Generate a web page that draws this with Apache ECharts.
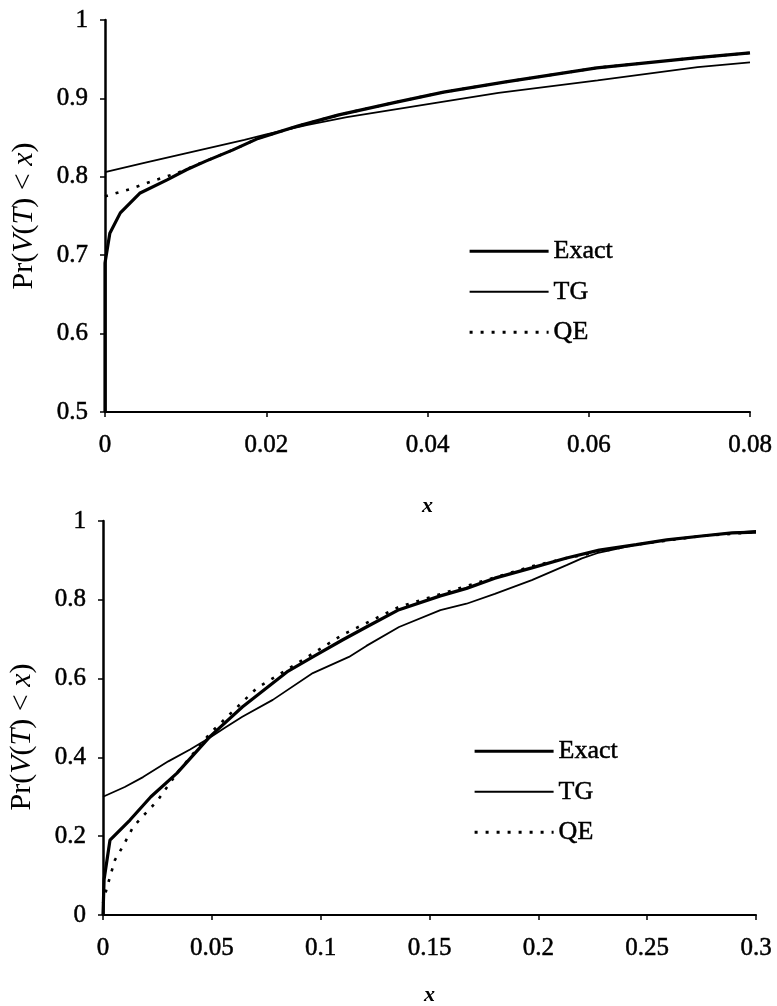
<!DOCTYPE html>
<html>
<head>
<meta charset="utf-8">
<script src="https://cdn.jsdelivr.net/npm/echarts@6/dist/echarts.min.js"></script>
<style>
  html, body { margin: 0; padding: 0; background: #fff; }
  #c1 { position: absolute; left: 0; top: 0; width: 777px; height: 530px; }
  #c2 { position: absolute; left: 0; top: 503px; width: 777px; height: 503px; }
</style>
</head>
<body>
<div id="c1"></div>
<div id="c2"></div>
<script>
// top panel, x from 0 to 0.08
var topExactX = [0, 0, 0.0006, 0.0019, 0.0043, 0.0077, 0.0101, 0.0125, 0.0158, 0.019, 0.024, 0.029, 0.036, 0.042, 0.0497, 0.061, 0.0735, 0.08];
var topExactY = [0.5, 0.69, 0.728, 0.754, 0.779, 0.796, 0.809, 0.82, 0.834, 0.849, 0.865, 0.879, 0.895, 0.908, 0.921, 0.939, 0.952, 0.958];
var topTgX = [0, 0.005, 0.01, 0.0173, 0.02, 0.025, 0.03, 0.036, 0.042, 0.0488, 0.0611, 0.0735, 0.08];
var topTgY = [0.806, 0.818, 0.83, 0.847, 0.854, 0.866, 0.876, 0.886, 0.896, 0.907, 0.923, 0.94, 0.946];
var topQeX = [0, 0.003, 0.006, 0.009, 0.012, 0.0158, 0.019, 0.024, 0.029, 0.036, 0.042, 0.0497, 0.061, 0.0735, 0.08];
var topQeY = [0.775, 0.784, 0.795, 0.805, 0.818, 0.834, 0.849, 0.865, 0.879, 0.895, 0.908, 0.921, 0.939, 0.952, 0.958];

// bottom panel, x from 0 to 0.3
var botExactX = [0, 0, 0.0005, 0.0032, 0.0124, 0.022, 0.034, 0.049, 0.064, 0.0845, 0.0964, 0.11, 0.121, 0.136, 0.155, 0.167, 0.18, 0.197, 0.213, 0.228, 0.245, 0.259, 0.275, 0.289, 0.3];
var botExactY = [0, 0, 0.09, 0.19, 0.241, 0.3, 0.36, 0.452, 0.528, 0.617, 0.655, 0.698, 0.731, 0.775, 0.81, 0.829, 0.855, 0.881, 0.906, 0.926, 0.94, 0.952, 0.962, 0.97, 0.972];
var botTgX = [0, 0.01, 0.0184, 0.03, 0.04, 0.049, 0.056, 0.064, 0.078, 0.0964, 0.113, 0.121, 0.136, 0.155, 0.167, 0.18, 0.197, 0.213, 0.22, 0.228, 0.245, 0.259, 0.275, 0.289, 0.3];
var botTgY = [0.3, 0.325, 0.35, 0.39, 0.42, 0.45, 0.475, 0.503, 0.546, 0.614, 0.655, 0.683, 0.731, 0.774, 0.79, 0.815, 0.85, 0.888, 0.905, 0.92, 0.94, 0.952, 0.962, 0.97, 0.975];
var botQeX = [0, 0.0018, 0.0055, 0.009, 0.0138, 0.018, 0.025, 0.034, 0.049, 0.0707, 0.0873, 0.11, 0.136, 0.167, 0.197, 0.213, 0.245, 0.275, 0.3];
var botQeY = [0.03, 0.07, 0.14, 0.173, 0.223, 0.249, 0.29, 0.36, 0.46, 0.576, 0.632, 0.711, 0.782, 0.835, 0.885, 0.906, 0.94, 0.962, 0.972];

var seriesNames = ['Exact', 'TG', 'QE'];

function pairs(xs, ys) {
    var out = [];
    for (var i = 0; i < xs.length; i++) out.push([xs[i], ys[i]]);
    return out;
}

var font = 'Liberation Serif';
var noSymbol = { color: 'rgba(0,0,0,0)', borderColor: 'rgba(0,0,0,0)', borderWidth: 0 };
// slight stroke so the text looks as heavy as the scanned print
var heavy = { textBorderColor: '#000', textBorderWidth: 0.5 };

function makeOption(cfg) {
    return {
        animation: false,
        backgroundColor: 'rgba(255,255,255,0)',
        grid: cfg.grid,
        legend: {
            orient: 'vertical',
            left: cfg.legendLeft,
            top: cfg.legendTop,
            padding: 0,
            itemWidth: 79,
            itemHeight: 14,
            itemGap: 14,
            itemStyle: noSymbol,
            data: [
                { name: seriesNames[0], itemStyle: noSymbol, lineStyle: { color: '#000', width: 3.2 } },
                { name: seriesNames[1], itemStyle: noSymbol, lineStyle: { color: '#000', width: 1.8 } },
                { name: seriesNames[2], itemStyle: noSymbol, lineStyle: { color: '#000', width: 3, type: [3, 8] } }
            ],
            textStyle: Object.assign({ fontFamily: font, fontSize: 26, color: '#000' }, heavy)
        },
        xAxis: {
            type: 'value',
            min: cfg.xMin, max: cfg.xMax, interval: cfg.xInterval,
            name: 'x',
            nameLocation: 'middle',
            nameGap: cfg.xNameGap,
            nameTextStyle: { fontFamily: font, fontSize: 22, fontStyle: 'italic', fontWeight: 'bold', color: '#000' },
            splitLine: { show: false },
            axisLine: { onZero: false, lineStyle: { color: '#000', width: 2 } },
            axisTick: { show: true, length: 5, lineStyle: { color: '#000', width: 1.5 } },
            axisLabel: Object.assign({ margin: 21, fontFamily: font, fontSize: 25, color: '#000' }, heavy)
        },
        yAxis: {
            type: 'value',
            min: cfg.yMin, max: cfg.yMax, interval: cfg.yInterval,
            name: '{n|Pr(}{i|V}{n|(}{i|T}{n|) < }{i|x}{n|)}',
            nameLocation: 'middle',
            nameRotate: 90,
            nameGap: 66,
            nameTextStyle: {
                padding: cfg.yNamePad,
                rich: {
                    n: { fontFamily: font, fontSize: 30, color: '#000' },
                    i: { fontFamily: font, fontSize: 30, color: '#000', fontStyle: 'italic' }
                }
            },
            splitLine: { show: false },
            axisLine: { show: true, onZero: false, lineStyle: { color: '#000', width: 2.5 } },
            axisTick: { show: true, length: 5, lineStyle: { color: '#000', width: 1.5 } },
            axisLabel: Object.assign({ margin: 17, fontFamily: font, fontSize: 25, color: '#000' }, heavy)
        },
        series: [
            {
                name: seriesNames[0], type: 'line', symbol: 'none', clip: false,
                lineStyle: { color: '#000', width: 3.2 },
                itemStyle: { color: '#000' },
                data: cfg.exact
            },
            {
                name: seriesNames[1], type: 'line', symbol: 'none', clip: false,
                lineStyle: { color: '#000', width: 1.8 },
                itemStyle: { color: '#000' },
                data: cfg.tg
            },
            {
                name: seriesNames[2], type: 'line', symbol: 'none', clip: false,
                lineStyle: { color: '#000', width: 2.6, type: [3, 8] },
                itemStyle: { color: '#000' },
                data: cfg.qe
            }
        ]
    };
}

var chart1 = echarts.init(document.getElementById('c1'));
var chart2 = echarts.init(document.getElementById('c2'));

chart1.setOption(makeOption({
    grid: { left: 105, top: 20, width: 645, height: 392, outerBoundsMode: 'none' },
    legendLeft: 468, legendTop: 238,
    xMin: 0, xMax: 0.08, xInterval: 0.02, xNameGap: 83,
    yMin: 0.5, yMax: 1, yInterval: 0.1, yNamePad: [0, 0, 0, 0],
    exact: pairs(topExactX, topExactY),
    tg: pairs(topTgX, topTgY),
    qe: pairs(topQeX, topQeY)
}));

chart2.setOption(makeOption({
    grid: { left: 103, top: 18, width: 653, height: 394, outerBoundsMode: 'none' },
    legendLeft: 473, legendTop: 235,
    xMin: 0, xMax: 0.3, xInterval: 0.05, xNameGap: 69,
    yMin: 0, yMax: 1, yInterval: 0.2, yNamePad: [0, 38, 0, 0],
    exact: pairs(botExactX, botExactY),
    tg: pairs(botTgX, botTgY),
    qe: pairs(botQeX, botQeY)
}));

window.addEventListener('resize', function () {
    chart1.resize();
    chart2.resize();
});
</script>
</body>
</html>
